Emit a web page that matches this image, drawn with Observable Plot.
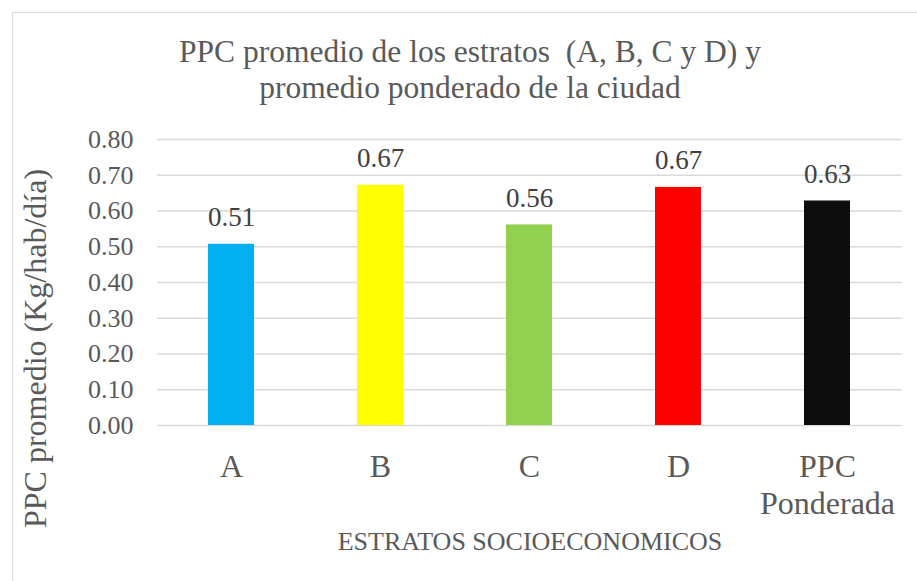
<!DOCTYPE html>
<html>
<head>
<meta charset="utf-8">
<script src="https://cdn.jsdelivr.net/npm/d3@7"></script>
<script src="https://cdn.jsdelivr.net/npm/@observablehq/plot@0.6"></script>
<style>
  html, body { margin: 0; padding: 0; background: #fff; overflow: hidden; }
  #wrap { position: relative; width: 917px; height: 581px; overflow: hidden; }
  #border { position: absolute; left: 12px; top: 12px; width: 940px; height: 620px; border: 1px solid #d9d9d9; box-sizing: border-box; }
  #title { position: absolute; left: 23px; width: 894px; top: 34px; text-align: center; white-space: pre;
    font-family: "Liberation Serif", "Times New Roman", serif; font-size: 31.5px; line-height: 36px; color: #595959; }
  #chart { position: absolute; left: 0; top: 0; }
</style>
</head>
<body>
<div id="wrap">
  <div id="border"></div>
  <div id="chart"></div>
  <div id="title"></div>
</div>
<script>
const titleLines = ["PPC promedio de los estratos  (A, B, C y D) y", "promedio ponderado de la ciudad"];
const categories = ["A", "B", "C", "D", "PPC Ponderada"];
const categoryLabels = ["A", "B", "C", "D", "PPC\nPonderada"];
const values = [0.507, 0.672, 0.561, 0.666, 0.628];
const colors = ["#00B0F0", "#FFFF00", "#92D050", "#FF0000", "#0D0D0D"];
const yTicks = [0, 0.1, 0.2, 0.3, 0.4, 0.5, 0.6, 0.7, 0.8];
const yTitle = "PPC promedio (Kg/hab/día)";
const xTitle = "ESTRATOS SOCIOECONOMICOS";

document.getElementById("title").textContent = titleLines.join("\n");

const data = categories.map((c, i) => ({cat: c, value: values[i], color: colors[i]}));
const font = "'Liberation Serif', 'Times New Roman', serif";

const chart = Plot.plot({
  width: 917,
  height: 581,
  marginTop: 139,
  marginBottom: 156,
  marginLeft: 157,
  marginRight: 15,
  style: {fontFamily: font, background: "transparent", overflow: "visible"},
  x: {domain: categories, paddingInner: 0.69, paddingOuter: 0.345, align: 0.5, label: null},
  y: {domain: [0, 0.8], label: null},
  marks: [
    Plot.ruleY(yTicks, {stroke: "#d9d9d9", strokeWidth: 1.5}),
    Plot.barY(data, {x: "cat", y: "value", fill: "color"}),
    Plot.text(data, {x: "cat", y: "value", text: d => d.value.toFixed(2), dy: -27, lineAnchor: "middle",
      fontSize: 27, fill: "#404040", fontFamily: font}),
    Plot.axisY({ticks: yTicks, tickFormat: d => d.toFixed(2), tickSize: 0, tickPadding: 24,
      fontSize: 26, fill: "#595959", label: null}),
    Plot.axisX({tickSize: 0, tickPadding: 25, fontSize: 32, lineHeight: 1.16, lineAnchor: "top",
      fill: "#595959", label: null, tickFormat: d => categoryLabels[categories.indexOf(d)]}),
    Plot.text([yTitle], {frameAnchor: "left", text: d => d, rotate: -90, dx: -122, dy: 66,
      textAnchor: "middle", lineAnchor: "middle", fontSize: 32, fill: "#595959", fontFamily: font}),
    Plot.text([xTitle], {frameAnchor: "bottom", text: d => d, dy: 116, textAnchor: "middle", lineAnchor: "middle",
      fontSize: 26, fill: "#595959", fontFamily: font})
  ]
});
document.getElementById("chart").appendChild(chart);
</script>
</body>
</html>
